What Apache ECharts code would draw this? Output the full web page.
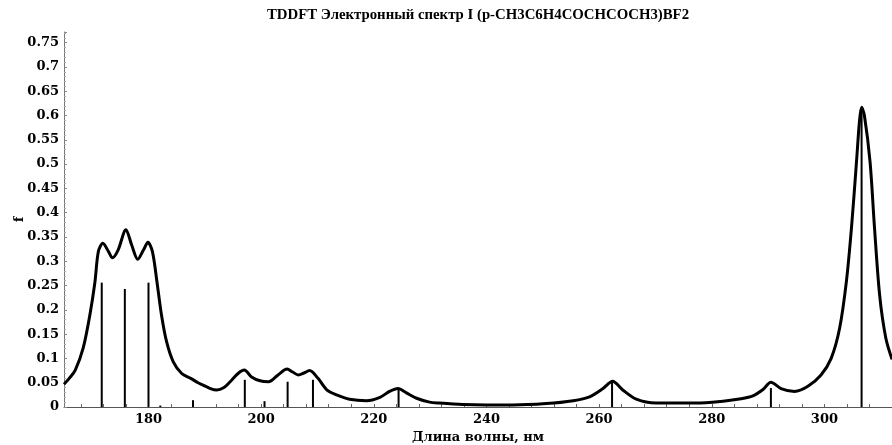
<!DOCTYPE html>
<html>
<head>
<meta charset="utf-8">
<script src="https://cdn.jsdelivr.net/npm/echarts@6/dist/echarts.min.js"></script>
<style>html,body{margin:0;padding:0;background:#fff}#c{width:892px;height:445px}</style>
</head>
<body>
<div id="c"></div>
<script>
const titleText = 'TDDFT Электронный спектр I (p-CH3C6H4COCHCOCH3)BF2';
const xName = 'Длина волны, нм';
const yName = 'f';
const xTickLabels = [180, 200, 220, 240, 260, 280, 300];
const xMinorTicks = [168,172,176,180,184,188,192,196,200,204,208,212,216,220,224,228,232,236,240,244,248,252,256,260,264,268,272,276,280,284,288,292,296,300,304,308,312];

// broadened spectrum
const curveX = [165.0,166.0,167.0,168.4,169.6,170.5,171.1,171.9,172.9,173.6,174.6,176.0,177.0,178.1,179.1,179.9,180.7,181.5,182.3,183.2,184.4,185.9,187.5,188.8,189.7,191.0,192.1,193.4,194.5,195.9,197.0,198.3,199.8,201.3,203.0,204.6,205.6,206.6,207.6,208.6,210.1,211.6,213.4,215.7,218.7,221.1,222.8,224.3,225.8,227.6,229.9,231.7,235.8,240.0,244.7,250.6,255.4,258.3,260.7,262.4,264.2,266.6,270.1,277.2,282.0,285.2,287.3,289.1,290.5,292.3,294.7,297.0,299.4,301.2,302.7,303.9,304.8,305.7,306.2,306.6,307.1,308.1,308.9,309.8,310.9,312.0];
const curveY = [0.047,0.060,0.076,0.121,0.190,0.258,0.320,0.337,0.320,0.307,0.323,0.365,0.334,0.304,0.323,0.339,0.320,0.258,0.190,0.135,0.093,0.069,0.059,0.050,0.045,0.038,0.035,0.040,0.052,0.069,0.076,0.062,0.054,0.052,0.066,0.078,0.072,0.066,0.070,0.075,0.059,0.036,0.025,0.016,0.013,0.020,0.032,0.038,0.029,0.018,0.010,0.008,0.005,0.004,0.004,0.007,0.013,0.021,0.038,0.053,0.035,0.016,0.008,0.008,0.012,0.017,0.023,0.036,0.051,0.038,0.032,0.042,0.066,0.100,0.162,0.258,0.368,0.505,0.585,0.617,0.600,0.505,0.368,0.231,0.142,0.098];

// oscillator strengths (sticks)
const stickX = [171.7,175.8,180.0,182.1,187.9,197.1,200.6,204.7,209.2,224.4,262.3,290.5,306.6];
const stickY = [0.256,0.243,0.256,0.003,0.014,0.056,0.012,0.052,0.056,0.035,0.052,0.039,0.612];

const FONT = 'DejaVu Serif';
const chart = echarts.init(document.getElementById('c'), null, {renderer: 'canvas'});
chart.setOption({
  animation: false,
  backgroundColor: '#fff',
  title: {
    text: titleText, left: 473, top: 3, textAlign: 'center',
    textStyle: {fontFamily: 'Liberation Serif', fontWeight: 'bold', fontSize: 14.8, color: '#000'}
  },
  grid: {left: 64, right: 0, top: 32, bottom: 38, containLabel: false, outerBoundsMode: 'none'},
  xAxis: {
    type: 'value', min: 165, max: 312,
    name: xName, nameLocation: 'middle', nameGap: 24, nameMoveOverlap: false,
    nameTextStyle: {fontFamily: FONT, fontWeight: 'bold', fontSize: 13, color: '#000'},
    axisLine: {show: true, onZero: false, lineStyle: {color: '#555', width: 1}},
    axisTick: {show: true, inside: true, length: 3, customValues: xMinorTicks, lineStyle: {color: '#666'}},
    axisLabel: {customValues: xTickLabels, fontFamily: FONT, fontWeight: 'bold', fontSize: 13, color: '#000', margin: 6},
    splitLine: {show: false}
  },
  yAxis: {
    type: 'value', min: 0, max: 0.772, interval: 0.05,
    name: yName, nameLocation: 'middle', nameGap: 38, nameRotate: 90, nameMoveOverlap: false,
    nameTextStyle: {fontFamily: FONT, fontWeight: 'bold', fontSize: 13, color: '#000'},
    axisLine: {show: true, lineStyle: {color: '#777', width: 1}},
    axisTick: {show: true, inside: true, length: 3, lineStyle: {color: '#888'}},
    minorTick: {show: true, splitNumber: 5, length: 2, lineStyle: {color: '#aaa'}},
    axisLabel: {showMaxLabel: false, fontFamily: FONT, fontWeight: 'bold', fontSize: 13, color: '#000', margin: 5,
      formatter: v => String(Math.round(v * 100) / 100)},
    splitLine: {show: false}
  },
  series: [
    {
      type: 'bar', barWidth: 2, itemStyle: {color: '#000'},
      data: stickX.map((x, i) => [x, stickY[i]]), z: 2
    },
    {
      type: 'line', showSymbol: false, smooth: 0.3, clip: true,
      lineStyle: {color: '#000', width: 3},
      data: curveX.map((x, i) => [x, curveY[i]]), z: 3
    }
  ]
});
</script>
</body>
</html>
